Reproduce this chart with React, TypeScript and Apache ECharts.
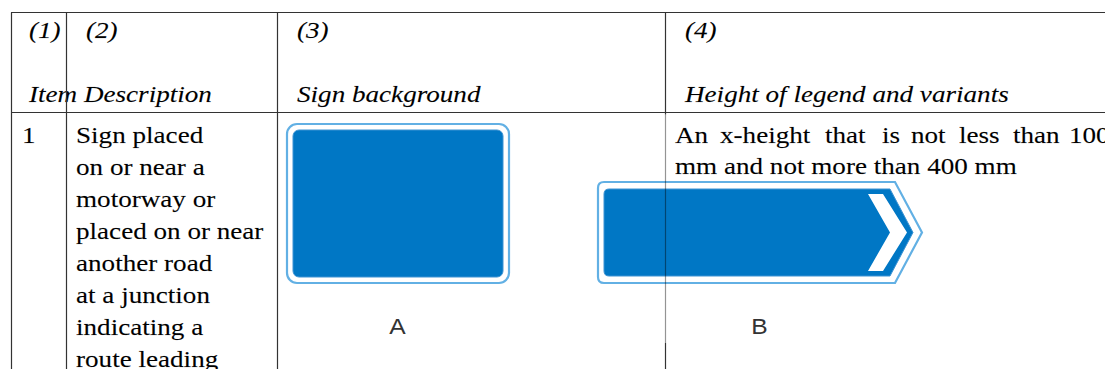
import React, { useEffect, useRef } from "react";
import * as echarts from "echarts";

// ---- content (text data) ----
const headerNumbers = ["(1)", "(2)", "(3)", "(4)"];
const headerTitles = ["Item Description", "Sign background", "Height of legend and variants"];
const itemNumbers = ["1"];
const descriptionLines = [
  "Sign placed",
  "on or near a",
  "motorway or",
  "placed on or near",
  "another road",
  "at a junction",
  "indicating a",
  "route leading",
];
const heightLine1Words = ["An", "x-height", "that", "is", "not", "less", "than", "100"];
const heightLine2 = "mm and not more than 400 mm";
const signLabels = ["A", "B"];

// ---- layout ----
const W = 1105;
const H = 369;
const colX = [11.5, 66.5, 277.5, 665.5];
const topY = 12.5;
const headY = 112.5;
const headerNumX = [29, 86, 297, 685];
const headerTitleX = [29, 297, 685];
const headerNumBase = 38;
const headerTitleBase = 102;
const rowBase = 143;
const rowStep = 32;
const heightStep = 31;
const heightWordX = [675, 720, 825, 882, 911, 959, 1013, 1069];
const signLabelX = [397.5, 759.5];
const signLabelY = 326.5;
const SCALE_X = 1.13;
const FS = 24;
const SERIF = "Liberation Serif";
const SANS = "Liberation Sans";
const BLUE = "#0077c5";
const LIGHT = "#62b0e4";
const LINE = "#333333";

const signBOuterD =
  "M604 182 L895 182 L922 232.5 L895 283 L604 283 Q598 283 598 277 L598 188 Q598 182 604 182 Z";
const signBInnerD =
  "M609 189 L890 189 L913 232.5 L890 276 L609 276 Q604 276 604 271 L604 194 Q604 189 609 189 Z";

echarts.graphic.registerShape("signBOuter", echarts.graphic.extendPath(signBOuterD, {}) as any);
echarts.graphic.registerShape("signBInner", echarts.graphic.extendPath(signBInnerD, {}) as any);

function serifText(text: string, x: number, baseline: number, italic = false): any {
  const style: any = {
    text,
    x: 0,
    y: 0,
    fill: "#000",
    stroke: "rgba(0,0,0,0.35)",
    lineWidth: 0.3,
    fontSize: FS,
    fontFamily: SERIF,
    align: "left",
    verticalAlign: "middle",
  };
  if (italic) style.fontStyle = "italic";
  return {
    type: "text",
    x,
    y: baseline - 0.3375 * FS,
    scaleX: SCALE_X,
    z: 10,
    style,
  };
}

function line(x1: number, y1: number, x2: number, y2: number, stroke = LINE): any {
  return {
    type: "line",
    z: 20,
    shape: { x1, y1, x2, y2 },
    style: { stroke, lineWidth: 1.2 },
  };
}

function buildOption(): any {
  const els: any[] = [];

  // Sign A
  els.push({
    type: "rect",
    z: 1,
    shape: { x: 287, y: 124, width: 222, height: 159, r: 10 },
    style: { fill: "#fff", stroke: LIGHT, lineWidth: 2.2 },
  });
  els.push({
    type: "rect",
    z: 2,
    shape: { x: 293, y: 130, width: 210, height: 147, r: 6 },
    style: { fill: BLUE, stroke: "#3d93d3", lineWidth: 1 },
  });

  // Sign B
  els.push({
    type: "signBOuter",
    x: 0,
    y: 0,
    z: 1,
    style: { fill: "#fff", stroke: LIGHT, lineWidth: 2.2 },
  });
  els.push({
    type: "signBInner",
    x: 0,
    y: 0,
    z: 2,
    style: { fill: BLUE, stroke: "#3d93d3", lineWidth: 1 },
  });
  els.push({
    type: "polygon",
    z: 3,
    shape: {
      points: [
        [868, 194],
        [883, 194],
        [907, 232.5],
        [883, 271],
        [868, 271],
        [890, 232.5],
      ],
    },
    style: { fill: "#fff" },
  });

  // Sign labels
  signLabels.forEach((t, i) => {
    els.push({
      type: "text",
      x: signLabelX[i],
      y: signLabelY,
      scaleX: 1.12,
      z: 10,
      style: {
        text: t,
        x: 0,
        y: 0,
        fill: "#333",
        fontSize: 22,
        fontFamily: SANS,
        align: "center",
        verticalAlign: "middle",
      },
    });
  });

  // Table lines
  els.push(line(colX[0] - 0.5, topY, W, topY));
  els.push(line(colX[0] - 0.5, headY, W, headY));
  els.push(line(colX[0], topY, colX[0], H));
  els.push(line(colX[1], topY, colX[1], H));
  els.push(line(colX[2], topY, colX[2], H));
  els.push(line(colX[3], topY, colX[3], headY + 2));
  els.push(line(colX[3], headY + 2, colX[3], 343, "rgba(0,0,0,0.42)"));
  els.push(line(colX[3], 343, colX[3], H));

  // Header
  headerNumbers.forEach((t, i) => els.push(serifText(t, headerNumX[i], headerNumBase, true)));
  headerTitles.forEach((t, i) => els.push(serifText(t, headerTitleX[i], headerTitleBase, true)));

  // Row 1
  itemNumbers.forEach((t, i) => els.push(serifText(t, 22, rowBase + i * 230)));
  descriptionLines.forEach((t, i) => els.push(serifText(t, 76, rowBase + i * rowStep)));
  heightLine1Words.forEach((t, i) => els.push(serifText(t, heightWordX[i], rowBase)));
  els.push(serifText(heightLine2, 675, rowBase + heightStep));

  return {
    animation: false,
    backgroundColor: "#fff",
    graphic: { elements: els },
  };
}

export default function App() {
  const ref = useRef<HTMLDivElement>(null);
  useEffect(() => {
    if (!ref.current) return;
    const chart = echarts.init(ref.current, null, { renderer: "svg" });
    chart.setOption(buildOption());
    return () => chart.dispose();
  }, []);
  return (
    <div
      ref={ref}
      style={{ position: "absolute", left: 0, top: 0, width: W, height: H, background: "#fff" }}
    />
  );
}
